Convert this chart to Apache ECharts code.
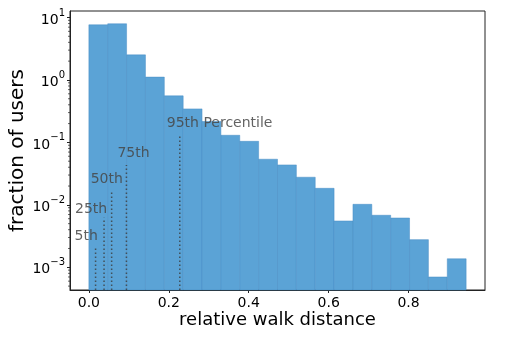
<!DOCTYPE html>
<html>
<head>
<meta charset="utf-8">
<script src="https://cdn.jsdelivr.net/npm/echarts@6/dist/echarts.min.js"></script>
<style>
html, body { margin: 0; padding: 0; background: #fff; }
#hist { width: 505px; height: 352px; }
</style>
</head>
<body>
<div id="hist"></div>
<script>
// histogram: 20 equal bins starting at 0
var binWidth = 0.0472;
var fractions = [7.64, 7.93, 2.52, 1.11, 0.556, 0.344, 0.216, 0.130, 0.104, 0.0538,
  0.0436, 0.0277, 0.0184, 0.00552, 0.0102, 0.00681, 0.00616, 0.00277, 0.0007, 0.00137];

// percentile markers
var percentileNames = ['5th', '25th', '50th', '75th', '95th Percentile'];
var percentileValues = [0.0168, 0.038, 0.057, 0.094, 0.2275];
var percentileHeights = [0.00219, 0.00624, 0.0173, 0.0436, 0.127];

var xMin = -0.0472, xMax = 0.9912;
var yMin = 4.33e-4, yMax = 12.7;

// pixel shift of each percentile label from the top of its line
var labelShift = [[-21, -10], [-29, -8], [-21, -11], [-9, -12], [-13, -13]];

var font = 'DejaVu Sans';
var barColor = '#5ba3d6';

var bins = fractions.map(function (v, i) {
  return [i * binWidth, (i + 1) * binWidth, v];
});
var percentiles = percentileValues.map(function (v, i) {
  return [v, percentileHeights[i], i];
});
// minor ticks at 2..9 x 10^k
var minorTicks = [];
for (var k = -4; k <= 1; k++) {
  for (var m = 2; m <= 9; m++) {
    var t = m * Math.pow(10, k);
    if (t > yMin && t < yMax) minorTicks.push([xMin, t]);
  }
}

function sup(n) {
  return n < 0 ? '\u2212' + (-n) : '' + n;
}

var chart = echarts.init(document.getElementById('hist'));
chart.setOption({
  animation: false,
  grid: {
    left: 70, right: 20, top: 11, bottom: 62,
    outerBoundsMode: 'none',
    containLabel: false,
    show: true, borderColor: '#222', borderWidth: 1
  },
  xAxis: {
    type: 'value',
    min: xMin,
    max: xMax,
    splitNumber: 5,
    name: 'relative walk distance',
    nameLocation: 'middle',
    nameGap: 21,
    nameMoveOverlap: false,
    nameTextStyle: { fontFamily: font, fontSize: 18, color: '#000' },
    axisLine: { show: true, onZero: false, lineStyle: { color: '#222', width: 1 } },
    axisTick: { show: true, length: 3, lineStyle: { color: '#222' } },
    axisLabel: {
      fontFamily: font, fontSize: 14, color: '#000', margin: 6,
      showMinLabel: false, showMaxLabel: false,
      formatter: function (v) { return v.toFixed(1); }
    },
    splitLine: { show: false }
  },
  yAxis: {
    type: 'log',
    logBase: 10,
    min: yMin,
    max: yMax,
    name: 'fraction of users',
    nameLocation: 'middle',
    nameRotate: 90,
    nameGap: 42,
    nameMoveOverlap: false,
    nameTextStyle: { fontFamily: font, fontSize: 20, color: '#000' },
    axisLine: { show: true, onZero: false, lineStyle: { color: '#222', width: 1 } },
    axisTick: { show: true, length: 3, lineStyle: { color: '#222' } },
    axisLabel: {
      margin: 5,
      showMinLabel: false, showMaxLabel: false,
      formatter: function (v) {
        var n = Math.round(Math.log10(v));
        return '{b|10}{s|' + sup(n) + '}';
      },
      rich: {
        b: { fontFamily: font, fontSize: 14, color: '#000', padding: [5, 0, 0, 0] },
        s: { fontFamily: font, fontSize: 10, color: '#000', verticalAlign: 'top' }
      }
    },
    splitLine: { show: false }
  },
  series: [
    {
      type: 'custom',
      data: bins,
      encode: { x: [0, 1], y: 2 },
      renderItem: function (params, api) {
        var p0 = api.coord([api.value(0), api.value(2)]);
        var p1 = api.coord([api.value(1), yMin]);
        return {
          type: 'rect',
          shape: { x: p0[0], y: p0[1], width: p1[0] - p0[0], height: p1[1] - p0[1] },
          style: { fill: barColor, stroke: 'rgba(70,140,195,0.6)', lineWidth: 0.8 }
        };
      }
    },
    {
      type: 'custom',
      data: minorTicks,
      renderItem: function (params, api) {
        var p = api.coord([api.value(0), api.value(1)]);
        return {
          type: 'line',
          shape: { x1: p[0] - 2, y1: p[1], x2: p[0], y2: p[1] },
          style: { stroke: '#222', lineWidth: 0.7 }
        };
      }
    },
    {
      type: 'custom',
      data: percentiles,
      z: 5,
      renderItem: function (params, api) {
        var i = api.value(2);
        var top = api.coord([api.value(0), api.value(1)]);
        var bot = api.coord([api.value(0), yMin]);
        return {
          type: 'group',
          children: [
            {
              type: 'line',
              shape: { x1: top[0], y1: bot[1], x2: top[0], y2: top[1] },
              style: { stroke: 'rgba(60,60,60,0.8)', lineWidth: 1.5, lineDash: [1.5, 2.5] }
            },
            {
              type: 'text',
              x: top[0] + labelShift[i][0],
              y: top[1] + labelShift[i][1],
              style: {
                text: percentileNames[i],
                fontFamily: font, fontSize: 14,
                fill: 'rgba(70,70,70,0.85)',
                align: 'left', verticalAlign: 'middle'
              }
            }
          ]
        };
      }
    }
  ]
});
</script>
</body>
</html>
